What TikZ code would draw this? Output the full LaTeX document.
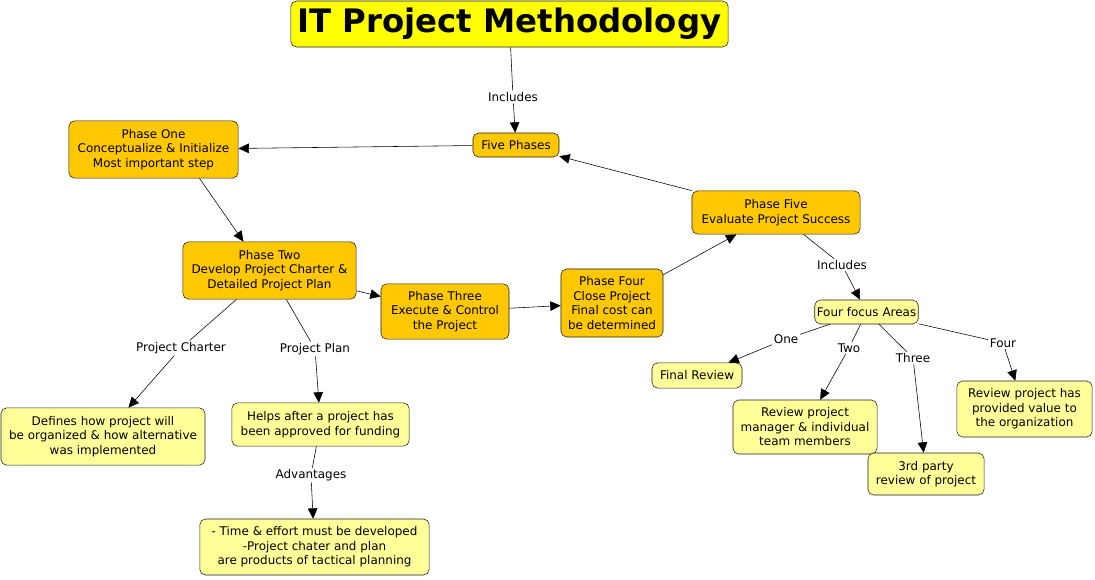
\documentclass[tikz,border=0pt]{standalone}
\usepackage{fontspec}
\setmainfont{DejaVu Sans}
\usepackage{xcolor}
\usepackage{tikz}
\usetikzlibrary{arrows.meta,positioning}
\definecolor{MapGold}{HTML}{FFC800}
\definecolor{MapPale}{HTML}{FFFF99}
\definecolor{MapTitle}{HTML}{FFFF00}
\definecolor{MapEdge}{HTML}{202020}
\tikzset{
  concept/.style={draw=MapEdge,rounded corners=1.4mm,align=center,inner sep=0.5mm,
    font=\fontsize{8.5}{10.3}\selectfont,text=black},
  phase/.style={concept,fill=MapGold},
  detail/.style={concept,fill=MapPale},
  heading/.style={concept,fill=MapTitle,font=\fontsize{23}{25}\selectfont\bfseries},
  linklabel/.style={fill=white,inner sep=1pt,font=\fontsize{8.5}{10.3}\selectfont},
  flow/.style={-{Triangle[length=2.6mm,width=2.4mm]},thin,draw=black},
  plain/.style={thin,draw=black}
}

\begin{document}
\begin{tikzpicture}[x=0.025cm,y=-0.025cm]
  \useasboundingbox (0,0) rectangle (1095,579);
  % concepts
  \node[heading,minimum width=109.3mm,minimum height=11.5mm] (title) at (509.5,24) {IT Project Methodology};
  \node[phase,minimum width=21.5mm,minimum height=6mm] (five) at (516,145) {Five Phases};
  \node[phase,minimum width=42.3mm,minimum height=14.3mm] (one) at (153.5,149.5) {Phase One\\Conceptualize \& Initialize\\Most important step};
  \node[phase,minimum width=43.3mm,minimum height=14.3mm] (two) at (269.5,270.5) {Phase Two\\Develop Project Charter \&\\Detailed Project Plan};
  \node[phase,minimum width=32mm,minimum height=13.8mm] (three) at (445,311.5) {Phase Three\\Execute \& Control\\the Project};
  \node[phase,minimum width=25.5mm,minimum height=17mm] (four) at (612,303) {Phase Four\\Close Project\\Final cost can\\be determined};
  \node[phase,minimum width=42mm,minimum height=10.8mm] (fivep) at (776,212.5) {Phase Five\\Evaluate Project Success};
  \node[detail,minimum width=23.3mm,minimum height=6mm] (focus) at (866.5,312) {Four focus Areas};
  \node[detail,minimum width=51mm,minimum height=14.3mm] (charter) at (103,436.5) {Defines how project will\\be organized \& how alternative\\was implemented};
  \node[detail,minimum width=44.3mm,minimum height=10.8mm] (helps) at (320.5,424.5) {Helps after a project has\\been approved for funding};
  \node[detail,minimum width=57.3mm,minimum height=14mm] (effort) at (314.5,547) {- Time \& effort must be developed\\-Project chater and plan\\are products of tactical planning};
  \node[detail,minimum width=22.5mm,minimum height=6.3mm] (final) at (697,375.5) {Final Review};
  \node[detail,minimum width=36mm,minimum height=13.5mm] (manager) at (805,427) {Review project\\manager \& individual\\team members};
  \node[detail,minimum width=29mm,minimum height=10.5mm] (party) at (926,474) {3rd party\\review of project};
  \node[detail,minimum width=33.8mm,minimum height=14mm] (value) at (1024.5,409) {Review project has\\provided value to\\the organization};
  % link labels
  \node[linklabel] (inc) at (513,97) {Includes};
  \node[linklabel] (inc2) at (842,265) {Includes};
  \node[linklabel] (pc) at (181,348) {Project Charter};
  \node[linklabel] (pp) at (315,349) {Project Plan};
  \node[linklabel] (adv) at (311,475) {Advantages};
  \node[linklabel] (l1) at (786,339) {One};
  \node[linklabel] (l2) at (849,348) {Two};
  \node[linklabel] (l3) at (913,358) {Three};
  \node[linklabel] (l4) at (1003,343) {Four};
  % connectors
  \draw[plain] (title) -- (inc);
  \draw[flow] (inc) -- (five);
  \draw[flow] (five) -- (one);
  \draw[flow] ([xshift=11.5mm]one.south) -- ([xshift=-6.5mm]two.north);
  \draw[flow] (two) -- (three);
  \draw[flow] (three) -- (four);
  \draw[flow] (four) -- (fivep);
  \draw[flow] (fivep.north west) -- (five);
  \draw[plain] (fivep) -- (inc2);
  \draw[flow] (inc2) -- (focus);
  \draw[plain] (two) -- (pc);
  \draw[flow] (pc) -- (charter);
  \draw[plain] (two) -- (pp);
  \draw[flow] (pp) -- (helps);
  \draw[plain] (helps) -- (adv);
  \draw[flow] (adv) -- (effort);
  \draw[plain] (focus) -- (l1);
  \draw[flow] (l1) -- (final);
  \draw[plain] (focus) -- (l2);
  \draw[flow] (l2) -- (manager);
  \draw[plain] (focus) -- (l3);
  \draw[flow] (l3) -- (party);
  \draw[plain] (focus) -- (l4);
  \draw[flow] (l4) -- (value);
\end{tikzpicture}
\end{document}
